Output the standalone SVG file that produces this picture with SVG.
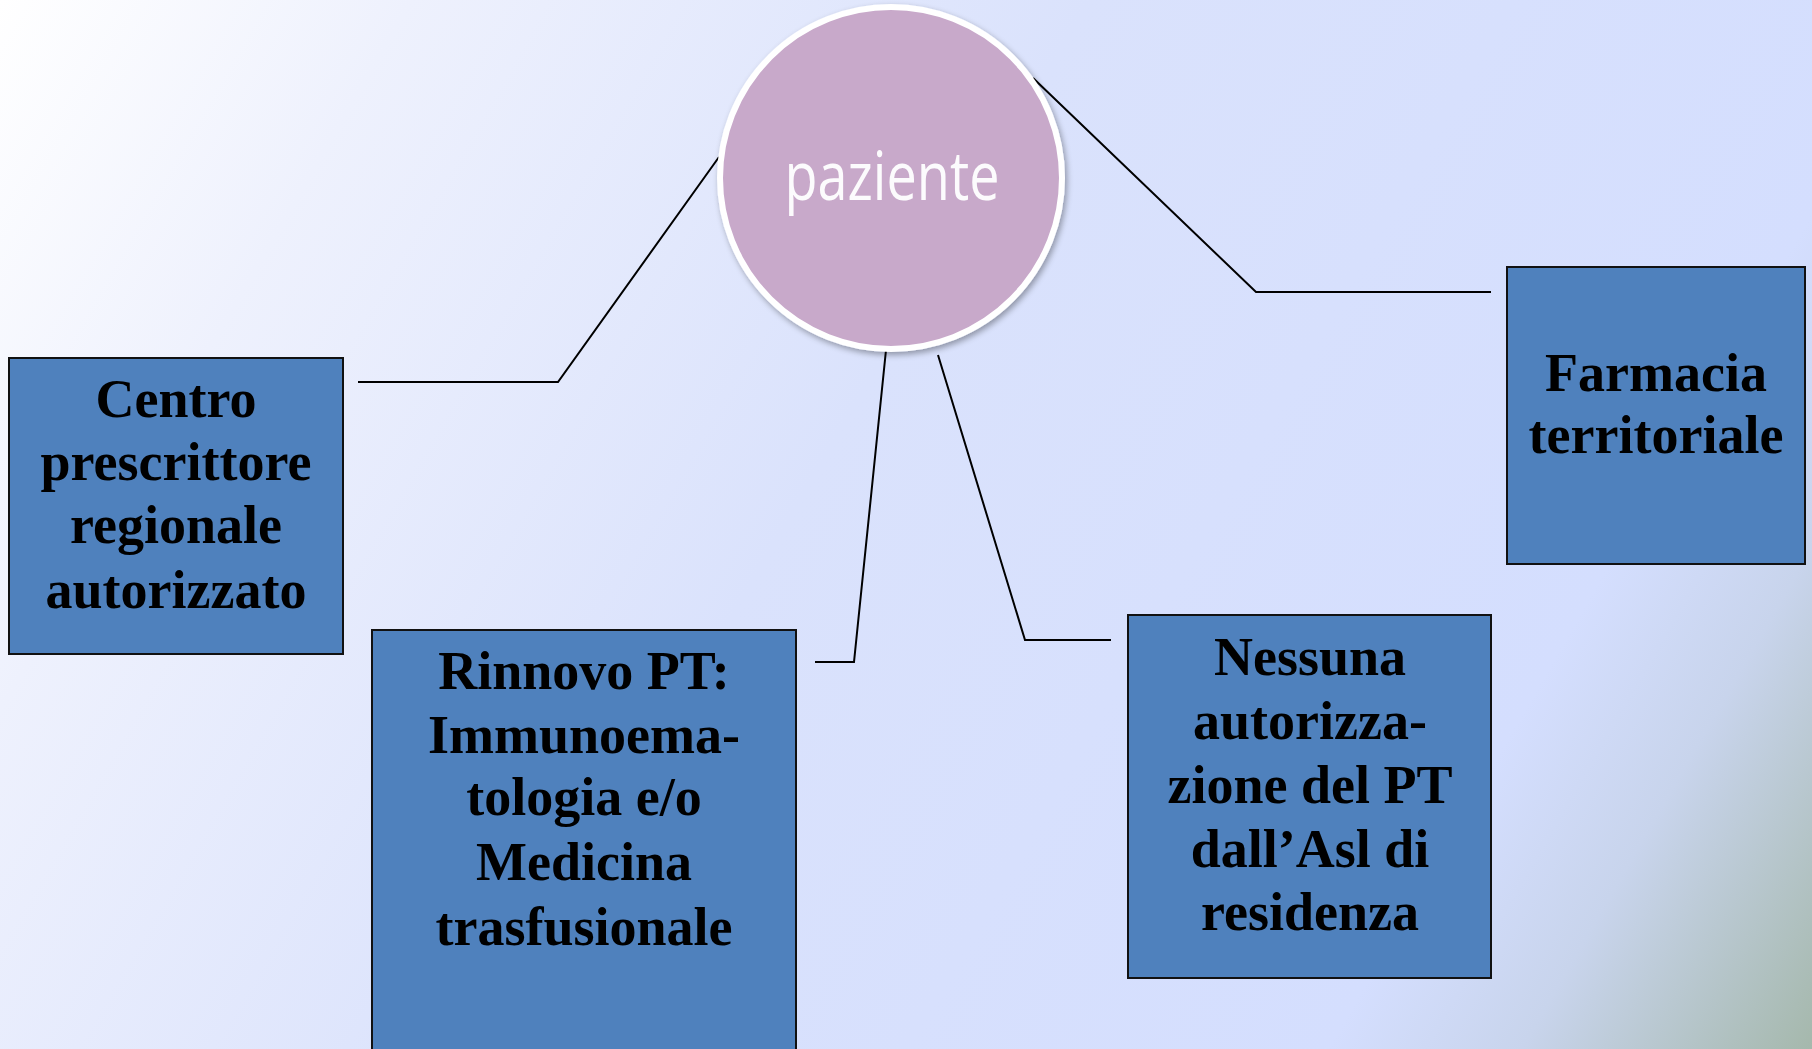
<svg xmlns="http://www.w3.org/2000/svg" width="1812" height="1049" viewBox="0 0 1812 1049">
  <defs>
    <linearGradient id="bg" gradientUnits="userSpaceOnUse" x1="0" y1="0" x2="1812" y2="1049">
      <stop offset="0" stop-color="#FFFFFF"/>
      <stop offset="0.17" stop-color="#EEF1FD"/>
      <stop offset="0.45" stop-color="#DAE2FC"/>
      <stop offset="0.8" stop-color="#D4DEFE"/>
      <stop offset="0.88" stop-color="#C8D4EC"/>
      <stop offset="1" stop-color="#A5B8AC"/>
    </linearGradient>
    <filter id="shadow" x="-20%" y="-20%" width="140%" height="140%">
      <feGaussianBlur in="SourceAlpha" stdDeviation="3"/>
      <feOffset dx="2" dy="3" result="b"/>
      <feComponentTransfer><feFuncA type="linear" slope="0.35"/></feComponentTransfer>
      <feMerge><feMergeNode/><feMergeNode in="SourceGraphic"/></feMerge>
    </filter>
  </defs>
  <style>
    .box { fill: #4F81BD; stroke: #111111; stroke-width: 2; }
    .lbl { font-family: "Liberation Serif", "Times New Roman", serif; font-weight: bold; font-size: 54px; fill: #000000; text-anchor: middle; }
    .conn { fill: none; stroke: #000000; stroke-width: 2; }
    .circ { fill: #C8A9CA; stroke: #FFFFFF; stroke-width: 6; }
    .ctext { font-family: "Open Sans", "DejaVu Sans", sans-serif; font-size: 68px; fill: #FFFFFF; fill-opacity: 0.95; text-anchor: middle; }
  </style>
  <rect x="0" y="0" width="1812" height="1049" fill="url(#bg)"/>

  <g id="connectors">
    <polyline class="conn" points="358,382 558,382 719,157"/>
    <polyline class="conn" points="1033,78 1256,292 1491,292"/>
    <polyline class="conn" points="886,350 854,662 815,662"/>
    <polyline class="conn" points="938,355 1025,640 1111,640"/>
  </g>

  <g id="node-paziente">
    <circle class="circ" cx="891" cy="178" r="171" filter="url(#shadow)"/>
    <text class="ctext" x="892" y="200" textLength="215" lengthAdjust="spacingAndGlyphs">paziente</text>
  </g>

  <g id="node-centro">
    <rect class="box" x="9" y="358" width="334" height="296"/>
    <text class="lbl" x="176" y="417">Centro</text>
    <text class="lbl" x="176" y="480">prescrittore</text>
    <text class="lbl" x="176" y="543">regionale</text>
    <text class="lbl" x="176" y="608">autorizzato</text>
  </g>

  <g id="node-rinnovo">
    <rect class="box" x="372" y="630" width="424" height="430"/>
    <text class="lbl" x="584" y="689">Rinnovo PT:</text>
    <text class="lbl" x="584" y="753">Immunoema-</text>
    <text class="lbl" x="584" y="815">tologia e/o</text>
    <text class="lbl" x="584" y="880">Medicina</text>
    <text class="lbl" x="584" y="945">trasfusionale</text>
  </g>

  <g id="node-nessuna">
    <rect class="box" x="1128" y="615" width="363" height="363"/>
    <text class="lbl" x="1310" y="675">Nessuna</text>
    <text class="lbl" x="1310" y="739">autorizza-</text>
    <text class="lbl" x="1310" y="803">zione del PT</text>
    <text class="lbl" x="1310" y="867">dall’Asl di</text>
    <text class="lbl" x="1310" y="930">residenza</text>
  </g>

  <g id="node-farmacia">
    <rect class="box" x="1507" y="267" width="298" height="297"/>
    <text class="lbl" x="1656" y="391">Farmacia</text>
    <text class="lbl" x="1656" y="453">territoriale</text>
  </g>
</svg>
